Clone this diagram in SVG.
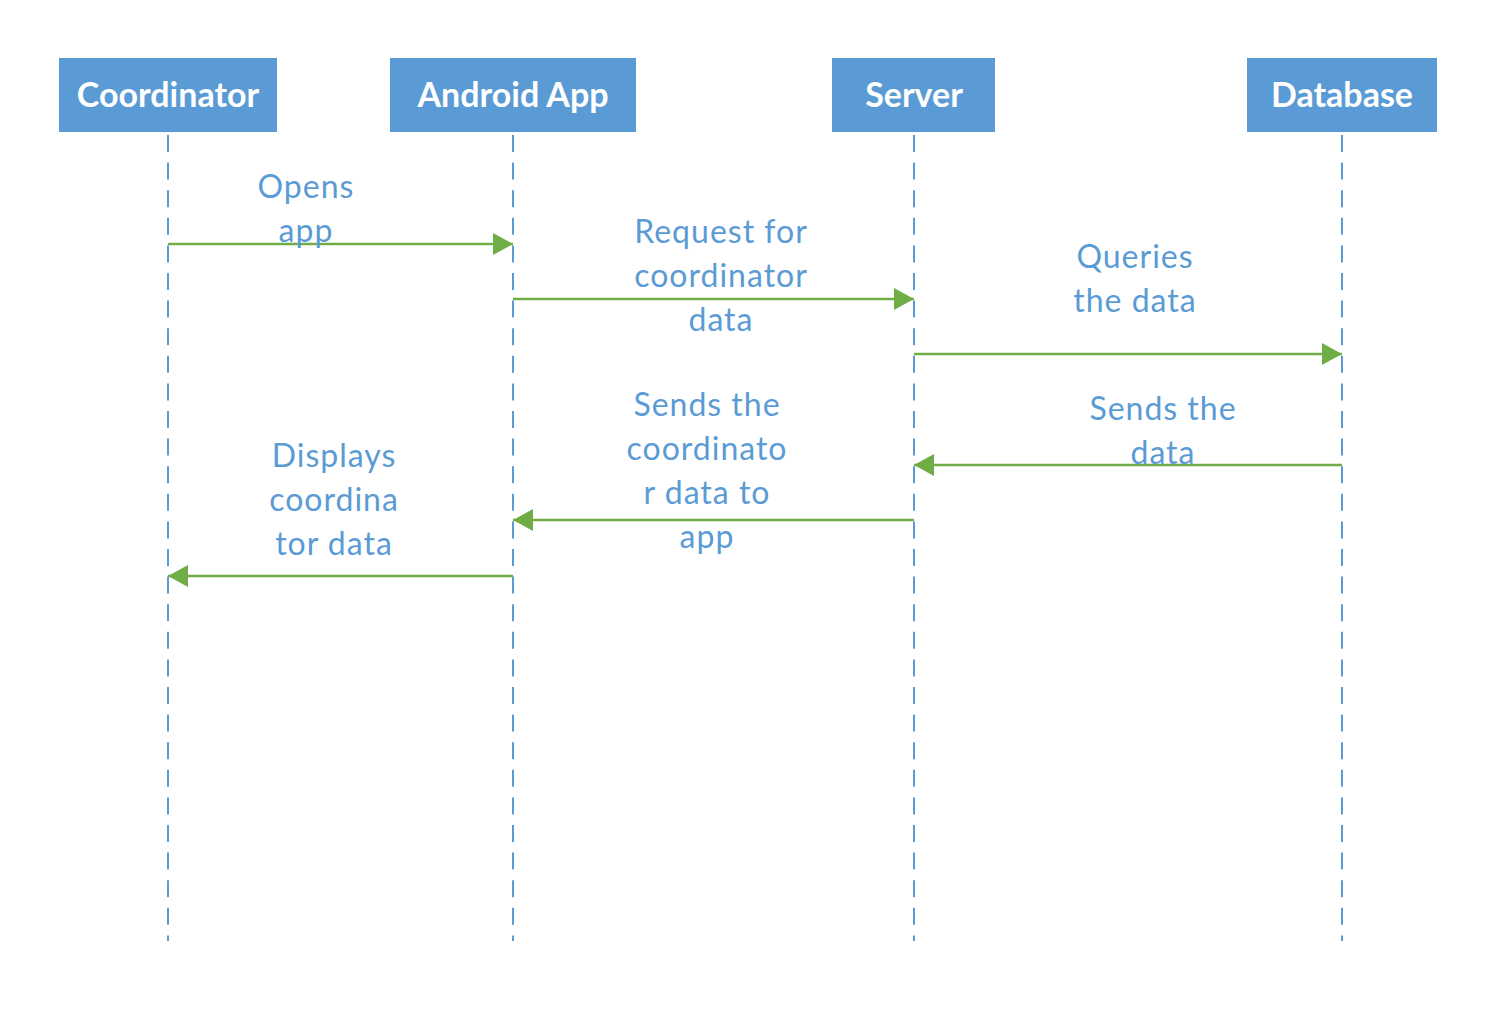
<svg xmlns="http://www.w3.org/2000/svg" width="1504" height="1024" viewBox="0 0 1504 1024">
<defs>
<style>
.box{fill:#5B9BD5;}
.hdr{font-family:Lato,"Liberation Sans",sans-serif;font-weight:bold;font-size:34px;fill:#ffffff;text-anchor:middle;}
.life{stroke:#5B9BD5;stroke-width:2;stroke-dasharray:17 10.6;fill:none;}
.msg{stroke:#70AD47;stroke-width:2.5;fill:none;}
.lbl{font-family:Lato,"Liberation Sans",sans-serif;font-size:32px;letter-spacing:1px;fill:#5B9BD5;text-anchor:middle;}
</style>
<marker id="ah" viewBox="0 0 20 22" refX="20" refY="11" markerWidth="20" markerHeight="22" markerUnits="userSpaceOnUse" orient="auto">
<path d="M0,0 L20,11 L0,22 Z" fill="#70AD47"/>
</marker>
</defs>
<rect width="1504" height="1024" fill="#ffffff"/>
<g id="lifelines">
<line class="life" x1="168" y1="135" x2="168" y2="941"/>
<line class="life" x1="513" y1="135" x2="513" y2="941"/>
<line class="life" x1="914" y1="135" x2="914" y2="941"/>
<line class="life" x1="1342" y1="135" x2="1342" y2="941"/>
</g>
<g id="coordinator"><rect class="box" x="59" y="58" width="218" height="74"/><text class="hdr" x="168" y="107">Coordinator</text></g>
<g id="android-app"><rect class="box" x="390" y="58" width="246" height="74"/><text class="hdr" x="513" y="107">Android App</text></g>
<g id="server"><rect class="box" x="832" y="58" width="163" height="74"/><text class="hdr" x="914" y="107">Server</text></g>
<g id="database"><rect class="box" x="1247" y="58" width="190" height="74"/><text class="hdr" x="1342" y="107">Database</text></g>
<g id="connectors">
<line class="msg" x1="168" y1="244" x2="513" y2="244" marker-end="url(#ah)"/>
<line class="msg" x1="513" y1="299" x2="914" y2="299" marker-end="url(#ah)"/>
<line class="msg" x1="914" y1="354" x2="1342" y2="354" marker-end="url(#ah)"/>
<line class="msg" x1="1342" y1="465" x2="914" y2="465" marker-end="url(#ah)"/>
<line class="msg" x1="914" y1="520" x2="513" y2="520" marker-end="url(#ah)"/>
<line class="msg" x1="513" y1="576" x2="168" y2="576" marker-end="url(#ah)"/>
</g>
<g id="labels">
<text class="lbl" x="306" y="198">Opens</text>
<text class="lbl" x="306" y="242">app</text>
<text class="lbl" x="721" y="243">Request for</text>
<text class="lbl" x="721" y="287">coordinator</text>
<text class="lbl" x="721" y="331">data</text>
<text class="lbl" x="1135" y="268">Queries</text>
<text class="lbl" x="1135" y="312">the data</text>
<text class="lbl" x="1163" y="420">Sends the</text>
<text class="lbl" x="1163" y="464">data</text>
<text class="lbl" x="707" y="416">Sends the</text>
<text class="lbl" x="707" y="460">coordinato</text>
<text class="lbl" x="707" y="504">r data to</text>
<text class="lbl" x="707" y="548">app</text>
<text class="lbl" x="334" y="467">Displays</text>
<text class="lbl" x="334" y="511">coordina</text>
<text class="lbl" x="334" y="555">tor data</text>
</g>
</svg>
